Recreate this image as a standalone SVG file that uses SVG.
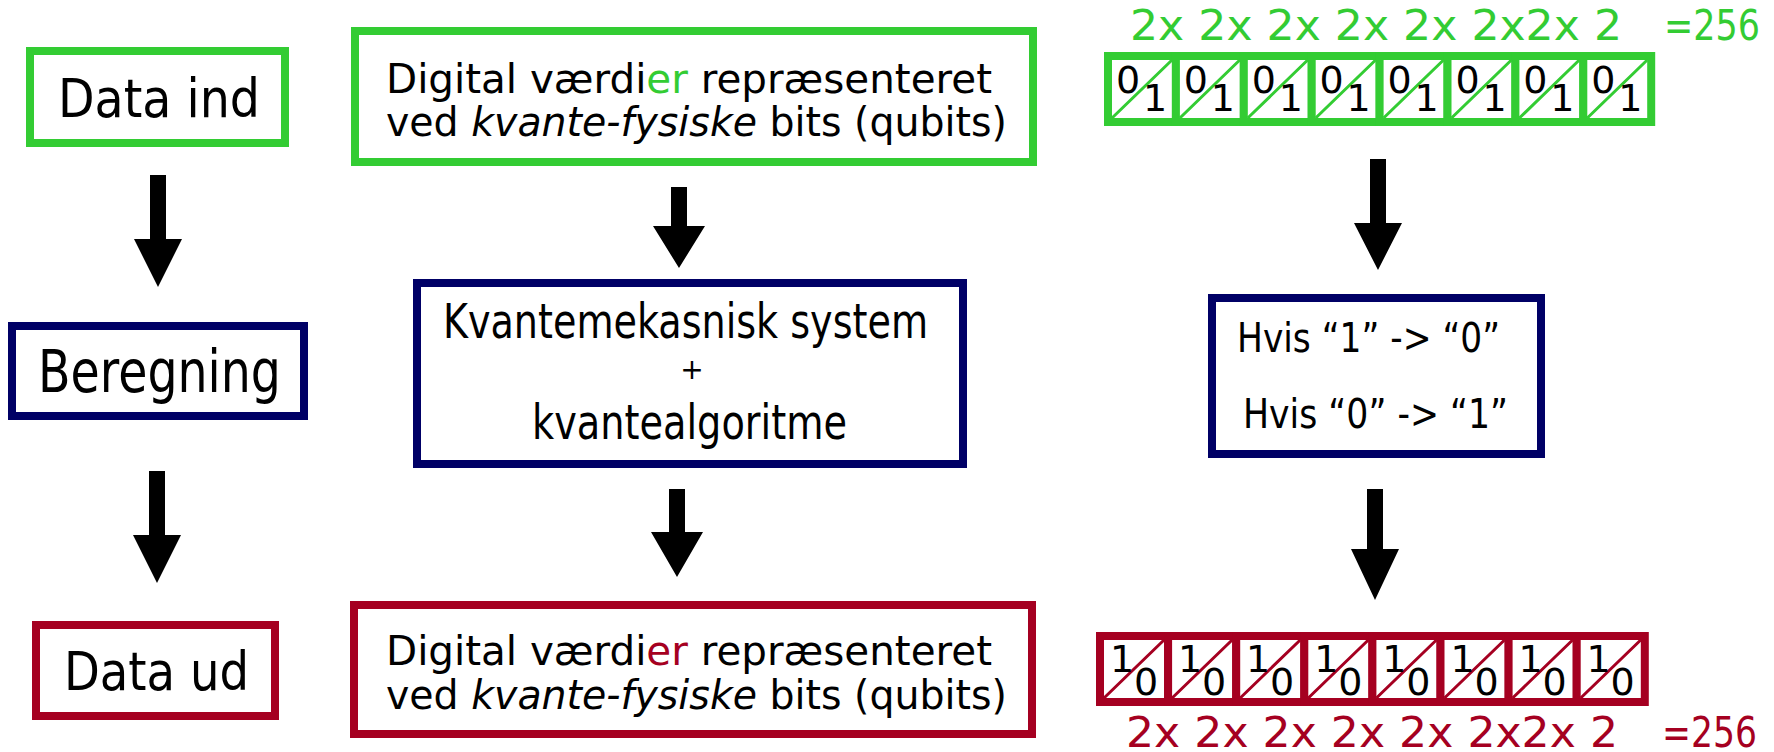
<svg xmlns="http://www.w3.org/2000/svg" width="1774" height="752" viewBox="0 0 1774 752">
<style>
.t{font-family:"DejaVu Sans","Liberation Sans",sans-serif;fill:#000}
.g{stroke:#33CC33;fill:#fff;stroke-width:8}
.b{stroke:#000066;fill:#fff;stroke-width:8}
.r{stroke:#A50021;fill:#fff;stroke-width:8}
.gd{stroke:#33CC33;stroke-width:3}
.rd{stroke:#A50021;stroke-width:3}
.arr{fill:#000}
.d{font-family:"DejaVu Sans","Liberation Sans",sans-serif;font-size:38px;text-anchor:middle}
.m{font-family:"DejaVu Sans","Liberation Sans",sans-serif;font-size:42px}
</style>
<rect width="1774" height="752" fill="#fff"/>
<g id="data-ind"><rect class="g" x="30" y="51" width="255" height="92"/><text class="t" x="58" y="117" font-size="54" textLength="202" lengthAdjust="spacingAndGlyphs">Data ind</text></g>
<g id="beregning"><rect class="b" x="12" y="326" width="292" height="90"/><text class="t" x="38" y="392" font-size="58" textLength="243" lengthAdjust="spacingAndGlyphs">Beregning</text></g>
<g id="data-ud"><rect class="r" x="36" y="625" width="239" height="91"/><text class="t" x="64" y="690" font-size="54" textLength="185" lengthAdjust="spacingAndGlyphs">Data ud</text></g>
<g id="input-qubits"><rect class="g" x="355" y="31" width="678" height="131"/>
<text class="t" x="386" y="93" font-size="41" textLength="606" lengthAdjust="spacingAndGlyphs">Digital værdi<tspan fill="#33CC33">er</tspan> repræsenteret</text>
<text class="t" x="386" y="136" font-size="41" textLength="621" lengthAdjust="spacingAndGlyphs">ved <tspan font-style="italic">kvante-fysiske</tspan> bits (qubits)</text></g>
<g id="quantum-system"><rect class="b" x="417" y="283" width="546" height="181"/>
<text class="t" x="443" y="338" font-size="48" textLength="485" lengthAdjust="spacingAndGlyphs">Kvantemekasnisk system</text>
<text class="t" x="692" y="379" font-size="28" text-anchor="middle">+</text>
<text class="t" x="532" y="439" font-size="48" textLength="315" lengthAdjust="spacingAndGlyphs">kvantealgoritme</text></g>
<g id="output-qubits"><rect class="r" x="354" y="605" width="678" height="129"/>
<text class="t" x="386" y="665" font-size="41" textLength="606" lengthAdjust="spacingAndGlyphs">Digital værdi<tspan fill="#A50021">er</tspan> repræsenteret</text>
<text class="t" x="386" y="709" font-size="41" textLength="621" lengthAdjust="spacingAndGlyphs">ved <tspan font-style="italic">kvante-fysiske</tspan> bits (qubits)</text></g>
<g id="flip-rule"><rect class="b" x="1212" y="298" width="329" height="156"/>
<text class="t" x="1237" y="352" font-size="41" textLength="263" lengthAdjust="spacingAndGlyphs">Hvis “1” -&gt; “0”</text>
<text class="t" x="1243" y="428" font-size="41" textLength="265" lengthAdjust="spacingAndGlyphs">Hvis “0” -&gt; “1”</text></g>
<g id="input-bits">
<text class="m" x="1130" y="40" fill="#33CC33" textLength="492" lengthAdjust="spacingAndGlyphs">2x 2x 2x 2x 2x 2x2x 2</text>
<text class="m" x="1664" y="40" fill="#33CC33" textLength="96" lengthAdjust="spacingAndGlyphs">=256</text>
<rect class="g" x="1108" y="56" width="67.9" height="66"/><rect class="g" x="1175.9" y="56" width="67.9" height="66"/><rect class="g" x="1243.8" y="56" width="67.9" height="66"/><rect class="g" x="1311.7" y="56" width="67.9" height="66"/><rect class="g" x="1379.6" y="56" width="67.9" height="66"/><rect class="g" x="1447.5" y="56" width="67.9" height="66"/><rect class="g" x="1515.4" y="56" width="67.9" height="66"/><rect class="g" x="1583.3" y="56" width="67.9" height="66"/>
<path class="gd" d="M1112 118L1172 60M1179.9 118L1239.8 60M1247.8 118L1307.7 60M1315.7 118L1375.6 60M1383.6 118L1443.5 60M1451.5 118L1511.4 60M1519.4 118L1579.3 60M1587.3 118L1647.2 60"/>
<g class="d"><text x="1128" y="93">0</text><text x="1155" y="111">1</text><text x="1195.9" y="93">0</text><text x="1222.9" y="111">1</text><text x="1263.8" y="93">0</text><text x="1290.8" y="111">1</text><text x="1331.7" y="93">0</text><text x="1358.7" y="111">1</text><text x="1399.6" y="93">0</text><text x="1426.6" y="111">1</text><text x="1467.5" y="93">0</text><text x="1494.5" y="111">1</text><text x="1535.4" y="93">0</text><text x="1562.4" y="111">1</text><text x="1603.3" y="93">0</text><text x="1630.3" y="111">1</text></g>
</g>
<g id="output-bits">
<rect class="r" x="1100" y="636" width="68.1" height="66"/><rect class="r" x="1168.1" y="636" width="68.1" height="66"/><rect class="r" x="1236.2" y="636" width="68.1" height="66"/><rect class="r" x="1304.3" y="636" width="68.1" height="66"/><rect class="r" x="1372.4" y="636" width="68.1" height="66"/><rect class="r" x="1440.5" y="636" width="68.1" height="66"/><rect class="r" x="1508.6" y="636" width="68.1" height="66"/><rect class="r" x="1576.7" y="636" width="68.1" height="66"/>
<path class="rd" d="M1104 698L1164 640M1172.1 698L1232.1 640M1240.2 698L1300.2 640M1308.3 698L1368.3 640M1376.4 698L1436.4 640M1444.5 698L1504.5 640M1512.6 698L1572.6 640M1580.7 698L1640.7 640"/>
<g class="d"><text x="1122" y="672">1</text><text x="1146" y="695">0</text><text x="1190.1" y="672">1</text><text x="1214.1" y="695">0</text><text x="1258.2" y="672">1</text><text x="1282.2" y="695">0</text><text x="1326.3" y="672">1</text><text x="1350.3" y="695">0</text><text x="1394.4" y="672">1</text><text x="1418.4" y="695">0</text><text x="1462.5" y="672">1</text><text x="1486.5" y="695">0</text><text x="1530.6" y="672">1</text><text x="1554.6" y="695">0</text><text x="1598.7" y="672">1</text><text x="1622.7" y="695">0</text></g>
<text class="m" x="1126" y="747" fill="#A50021" textLength="492" lengthAdjust="spacingAndGlyphs">2x 2x 2x 2x 2x 2x2x 2</text>
<text class="m" x="1662" y="747" fill="#A50021" textLength="95" lengthAdjust="spacingAndGlyphs">=256</text>
</g>
<g id="connectors" class="arr">
<polygon points="150,175 166,175 166,239 182,239 158,287 134,239 150,239"/>
<polygon points="149,471 165,471 165,535 181,535 157,583 133,535 149,535"/>
<polygon points="671,187 687,187 687,226 705,226 679,268 653,226 671,226"/>
<polygon points="669,489 685,489 685,532 703,532 677,577 651,532 669,532"/>
<polygon points="1370,159 1386,159 1386,223 1402,223 1378,270 1354,223 1370,223"/>
<polygon points="1367,489 1383,489 1383,549 1399,549 1375,600 1351,549 1367,549"/>
</g>
</svg>
